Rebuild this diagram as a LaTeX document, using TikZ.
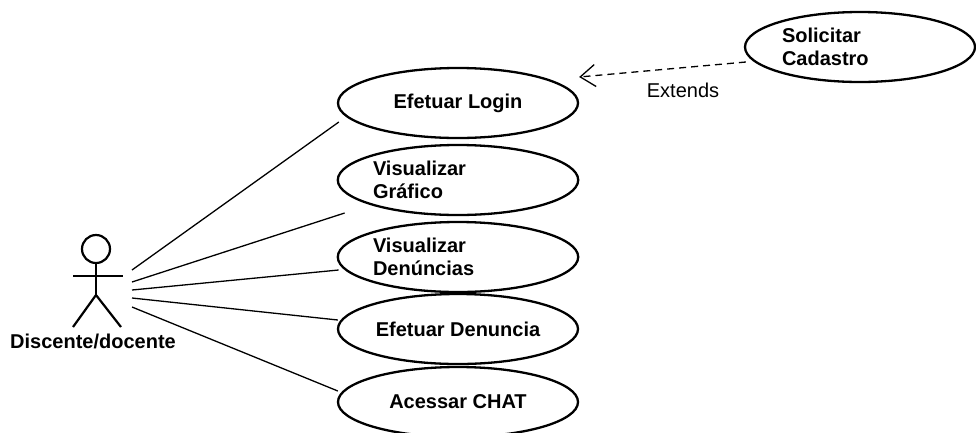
\documentclass[tikz,border=0pt]{standalone}
\usepackage{fontspec}
\setmainfont{Liberation Sans}
\usetikzlibrary{shapes.geometric,arrows.meta,calc}

\tikzset{
  usecase/.style={ellipse, draw, line width=2.3pt, inner sep=0pt,
    minimum width=240pt, minimum height=70pt,
    font=\fontsize{20}{23}\selectfont\bfseries, align=center},
  usecasetwo/.style={usecase, text width=170pt, align=left},
  assoc/.style={line width=1.3pt},
  stick/.style={line width=2.2pt},
  extendline/.style={line width=1.3pt, dash pattern=on 7pt off 5pt,
    -{Straight Barb[length=15pt,width=22pt]}},
  plain/.style={font=\fontsize{20}{23}\selectfont, inner sep=0pt},
  boldlabel/.style={font=\fontsize{20}{23}\selectfont\bfseries, inner sep=0pt}
}

\begin{document}
\begin{tikzpicture}[x=1pt, y=-1pt]
  \clip (0,0) rectangle (976,432);
  \useasboundingbox (0,0) rectangle (976,432);

  % use cases
  \node[usecase]    (login)    at (458,103) {Efetuar Login};
  \node[usecasetwo] (grafico)  at (458,180) {Visualizar\\Gráfico};
  \node[usecasetwo] (denlist)  at (458,257) {Visualizar\\Denúncias};
  \node[usecase]    (denuncia) at (458,329) {Efetuar Denuncia};
  \node[usecase]    (chat)     at (458,402) {Acessar CHAT};
  \node[usecase, minimum width=230pt, text width=156pt, align=left]
                    (cadastro) at (860,47) {Solicitar\\Cadastro};

  % actor
  \draw[stick] (96,249) circle (14);
  \draw[stick] (96,263) -- (96,295);
  \draw[stick] (73,276) -- (123,276);
  \draw[stick] (73,327) -- (96,295) -- (121,327);
  \node[boldlabel] (actor) at (93,341) {Discente/docente};

  % association end points beside the actor
  \coordinate (a1) at (132,270);
  \coordinate (a2) at (132,282);
  \coordinate (a3) at (132,290);
  \coordinate (a4) at (132,298);
  \coordinate (a5) at (132,307);

  \draw[assoc] (a1) -- ($(login.west)+(2,19)$);
  \draw[assoc] (a2) -- ($(grafico.west)+(8,33)$);
  \draw[assoc] (a3) -- ($(denlist.west)+(2,13)$);
  \draw[assoc] (a4) -- ($(denuncia.west)+(1,-9)$);
  \draw[assoc] (a5) -- ($(chat.west)+(1,-11)$);

  % extend relation
  \draw[extendline] ($(cadastro.west)+(2,15)$) -- ($(login.east)+(0,-26)$);
  \node[plain] (ext) at (683,90) {Extends};
\end{tikzpicture}
\end{document}
